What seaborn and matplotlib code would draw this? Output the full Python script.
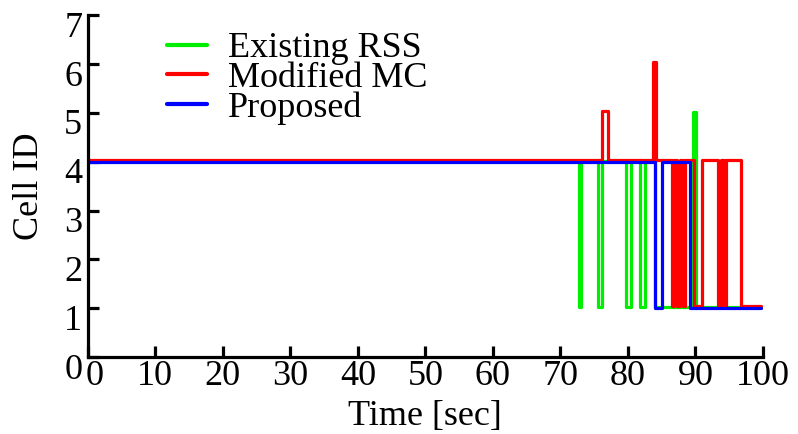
import numpy as np
import pandas as pd
import matplotlib
matplotlib.use("Agg")
import matplotlib.pyplot as plt
import matplotlib.transforms as mtransforms
import seaborn as sns

# ---- data (step changes: time [sec], cell id) ----
rss_time = [0, 72.7, 73.1, 75.6, 76.1, 79.7, 80.5, 81.8, 82.6, 84.0, 89.7, 90.1, 99.7]
rss_cell = [4, 1, 4, 1, 4, 1, 4, 1, 4, 1, 5, 1, 1]

mc_time = [0, 76.2, 77.1, 83.7, 84.2, 86.5, 86.9, 87.3, 87.7, 88.1, 88.5, 89.8,
           91.0, 93.3, 93.8, 94.2, 94.6, 96.7, 99.7]
mc_cell = [4, 5, 4, 6, 4, 1, 4, 1, 4, 1, 4, 1, 4, 1, 4, 1, 4, 1, 1]

prop_time = [0, 84.0, 85.0, 89.2, 99.7]
prop_cell = [4, 1, 4, 1, 1]

methods = ["Existing RSS", "Modified MC", "Proposed"]
x_ticks = [0, 10, 20, 30, 40, 50, 60, 70, 80, 90, 100]
y_ticks = [0, 1, 2, 3, 4, 5, 6, 7]

# ---- styling ----
colors = {"Existing RSS": "#00ee00", "Modified MC": "#ff0000", "Proposed": "#0000ff"}
display_offset = {"Existing RSS": 0.02, "Modified MC": 0.04, "Proposed": 0.0}

frames = []
for name, t, c in zip(methods, [rss_time, mc_time, prop_time], [rss_cell, mc_cell, prop_cell]):
    d = pd.DataFrame({"time": t, "cell": c})
    d["y"] = d["cell"] + display_offset[name]
    d["method"] = name
    frames.append(d)
df = pd.concat(frames, ignore_index=True)

sns.set_style("ticks")
plt.rcParams["font.family"] = ["Liberation Serif", "DejaVu Serif"]
plt.rcParams["text.color"] = "black"
plt.rcParams["axes.labelcolor"] = "black"
plt.rcParams["xtick.color"] = "black"
plt.rcParams["ytick.color"] = "black"

fig = plt.figure(figsize=(7.98, 4.34), dpi=100)
ax = fig.add_axes([0.110, 0.177, 0.846, 0.788])

sns.lineplot(data=df, x="time", y="y", hue="method", hue_order=methods,
             palette=colors, drawstyle="steps-post", linewidth=2.3,
             estimator=None, sort=False, ax=ax, legend=True)

ax.set_xlim(0, 100)
ax.set_ylim(0, 7)
ax.set_xticks(x_ticks)
ax.set_yticks(y_ticks)
ax.set_xticklabels([str(v) for v in x_ticks])
ax.set_yticklabels([str(v) for v in y_ticks])
sns.despine(ax=ax)
for s in ["left", "bottom"]:
    ax.spines[s].set_linewidth(2.3)
    ax.spines[s].set_color("black")
ax.tick_params(axis="both", direction="in", length=8, width=2.3,
               labelsize=26, colors="black")
ax.tick_params(axis="x", pad=2)
ax.tick_params(axis="y", pad=4)

ax.set_xlabel("Time [sec]", fontsize=26, labelpad=5, color="black")
ax.set_ylabel("Cell ID", fontsize=26, labelpad=13, color="black")

# shift y tick labels down slightly, and the x "0" label right
off_y = mtransforms.ScaledTranslation(0, -9 / 100, fig.dpi_scale_trans)
for lab in ax.get_yticklabels():
    lab.set_transform(lab.get_transform() + off_y)
off_x = mtransforms.ScaledTranslation(7 / 100, 0, fig.dpi_scale_trans)
xl = ax.get_xticklabels()
xl[0].set_transform(xl[0].get_transform() + off_x)

leg = ax.legend(loc="upper left", bbox_to_anchor=(167 / 798, 1 - 32 / 434),
                bbox_transform=fig.transFigure, frameon=False, fontsize=26,
                handlelength=1.1, handletextpad=0.6, labelspacing=-0.1,
                borderpad=0, borderaxespad=0, title=None)
for h in leg.get_lines():
    h.set_linewidth(3)
for t in leg.get_texts():
    t.set_color("black")

fig.savefig("out.png", dpi=100)
